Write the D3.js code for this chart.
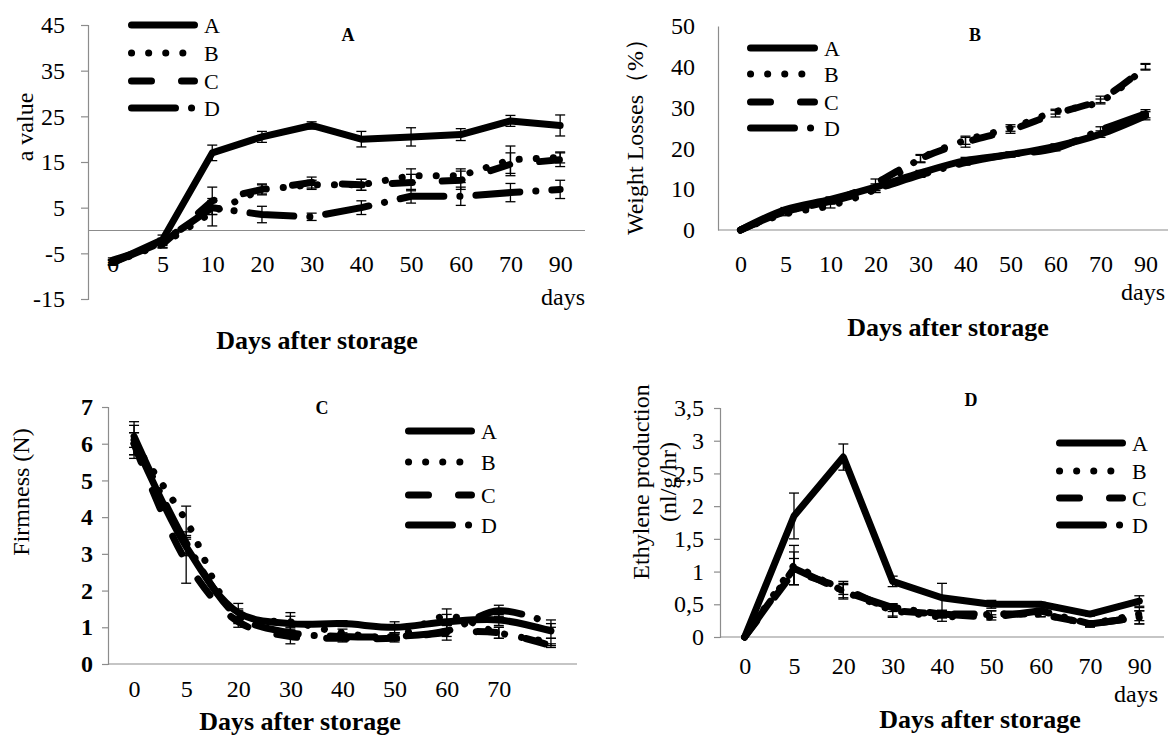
<!DOCTYPE html>
<html>
<head>
<meta charset="utf-8">
<script src="https://cdn.jsdelivr.net/npm/d3@7"></script>
<style>
body { margin: 0; background: #fff; }
svg text { font-family: "Liberation Serif", "Times New Roman", serif; fill: #000; }
</style>
</head>
<body>
<div id="root"></div>
<script>
const w = 1168, h = 735;

// ---- data ----
const seriesNames = ["A", "B", "C", "D"];

// panel A: a value
const daysA = ["0", "5", "10", "20", "30", "40", "50", "60", "70", "90"];
const aValueA = [-7, -2, 17, 20.5, 23, 20, 20.5, 21, 24, 23];
const aValueB = [-7, -3, 4, 9, 10, 10, 12, 12, 15.5, 16];
const aValueC = [-6.5, -3, 6.5, 9, 10.5, 10, 10.5, 11, 14.5, 15.5];
const aValueD = [-7, -2.5, 5, 3.5, 3, 5, 7.5, 7.5, 8.3, 9];
const aErrA = [0.6, 1, 1.7, 1.2, 0.8, 1.7, 2, 1.3, 1.2, 2.3];
const aErrB = [0.5, 0.8, 3, 1, 1, 1.2, 1.5, 1.5, 3, 1.2];
const aErrC = [0.5, 0.8, 3, 1.2, 1.2, 1.2, 1.8, 2, 2.5, 1.5];
const aErrD = [0.5, 0.8, 1.5, 1.8, 0.8, 1.5, 1.5, 2, 2, 2];

// panel B: weight losses
const daysB = ["0", "5", "10", "20", "30", "40", "50", "60", "70", "90"];
const weightA = [0, 5, 7.5, 10.5, 14, 17, 18.5, 20.5, 23.5, 28];
const weightB = [0, 4, 6, 10, 17.5, 22, 25, 29, 31.5, 40];
const weightC = [0, 4.5, 7, 11.5, 17.5, 21.5, 24.5, 28.5, 32, 40];
const weightD = [0, 4.5, 7, 10, 13.5, 16.5, 18.5, 20, 24.5, 28.5];
const weightErrA = [0, 0.5, 0.6, 0.8, 0.6, 0.8, 0.6, 0.6, 0.8, 1];
const weightErrB = [0, 0.5, 0.6, 0.8, 0.8, 1, 0.8, 0.6, 0.6, 0.6];
const weightErrC = [0, 0.5, 0.6, 1, 1, 1.2, 0.8, 0.8, 0.8, 0.8];
const weightErrD = [0, 0.5, 0.6, 0.8, 0.6, 0.6, 0.6, 0.6, 0.8, 1];

// panel C: firmness
const daysC = ["0", "5", "20", "30", "40", "50", "60", "70", ""];
const firmA = [6.1, 3.2, 1.4, 1.1, 1.1, 1.0, 1.15, 1.2, 0.9];
const firmB = [6.0, 3.9, 1.3, 1.15, 0.85, 0.75, 1.3, 0.85, 0.6];
const firmC = [6.0, 2.8, 1.15, 0.75, 0.7, 0.7, 0.85, 0.85, 0.5];
const firmD = [6.2, 3.3, 1.3, 0.85, 0.75, 0.75, 0.9, 1.45, 1.1];
const firmErrA = [0.5, 0.25, 0.25, 0.2, 0.08, 0.15, 0.2, 0.15, 0.2];
const firmErrB = [0.3, 0.4, 0.2, 0.25, 0.1, 0.1, 0.2, 0.15, 0.1];
const firmErrC = [0.3, 0.6, 0.15, 0.2, 0.1, 0.1, 0.2, 0.15, 0.05];
const firmErrD = [0.3, 0.3, 0.15, 0.15, 0.1, 0.1, 0.15, 0.15, 0.1];

// panel D: ethylene production
const daysD = ["0", "5", "20", "30", "40", "50", "60", "70", "90"];
const ethA = [0, 1.85, 2.75, 0.85, 0.6, 0.5, 0.5, 0.35, 0.55];
const ethB = [0, 1.1, 0.7, 0.4, 0.3, 0.35, 0.35, 0.2, 0.35];
const ethC = [0, 1.0, 0.75, 0.4, 0.35, 0.35, 0.35, 0.2, 0.3];
const ethD = [0, 1.05, 0.7, 0.45, 0.35, 0.3, 0.4, 0.2, 0.3];
const ethErrA = [0, 0.35, 0.2, 0.08, 0.22, 0.06, 0.03, 0.03, 0.08];
const ethErrB = [0, 0.3, 0.12, 0.08, 0.06, 0.05, 0.04, 0.04, 0.1];
const ethErrC = [0, 0.2, 0.1, 0.1, 0.06, 0.05, 0.04, 0.05, 0.1];
const ethErrD = [0, 0.25, 0.1, 0.06, 0.05, 0.04, 0.04, 0.04, 0.1];

// line style per treatment (solid, round dot, dash, long dash dot)
const dashes = { A: null, B: "0.1,17", C: "20,30", D: "44,16,0.1,16" };
const axisGrey = "#8c8c8c";

const svg = d3.select("#root")
    .append("svg")
    .attr("width", w)
    .attr("height", h);

function drawPanel(p) {
    const g = svg.append("g");
    const x = d3.scalePoint()
        .domain(d3.range(p.days.length))
        .range(p.xRange)
        .padding(0.5);
    const y = d3.scaleLinear()
        .domain(p.yDomain)
        .range(p.yRange);

    // y axis
    const yAxis = d3.axisLeft(y)
        .tickValues(p.yTicks)
        .tickSize(p.tickLen)
        .tickPadding(p.tickPad)
        .tickFormat(p.yFormat);
    const ya = g.append("g")
        .attr("transform", "translate(" + p.xRange[0] + ",0)")
        .call(yAxis);
    ya.select(".domain").attr("stroke", axisGrey).attr("stroke-width", 1.2);
    ya.selectAll(".tick line").attr("stroke", axisGrey).attr("stroke-width", 1.2);
    ya.selectAll(".tick text")
        .style("font-size", "24px")
        .style("font-weight", p.boldY ? "bold" : "normal");

    // horizontal axis line
    g.append("line")
        .attr("x1", p.xRange[0]).attr("x2", p.xRange[1])
        .attr("y1", y(p.base)).attr("y2", y(p.base))
        .attr("stroke", axisGrey)
        .attr("stroke-width", 1.2);

    // category labels
    const xAxis = d3.axisBottom(x).tickSize(0).tickFormat(i => p.days[i]);
    const xa = g.append("g")
        .attr("transform", "translate(0," + (p.labelY - 14) + ")")
        .call(xAxis);
    xa.select(".domain").remove();
    xa.selectAll(".tick text").style("font-size", "24px");

    // series lines
    const line = d3.line()
        .x((d, i) => x(i))
        .y(d => y(d))
        .curve(p.smooth ? d3.curveCatmullRom.alpha(0.5) : d3.curveLinear);

    const order = ["D", "C", "B", "A"];
    order.forEach(k => {
        g.append("path")
            .datum(p.values[k])
            .attr("d", line)
            .attr("fill", "none")
            .attr("stroke", "#000")
            .attr("stroke-width", 7)
            .attr("stroke-linecap", "round")
            .attr("stroke-linejoin", "round")
            .attr("stroke-dasharray", dashes[k]);
    });

    // error bars
    seriesNames.forEach(k => {
        const vals = p.values[k];
        const errs = p.errors[k];
        vals.forEach((v, i) => {
            const e = errs[i];
            if (!e) return;
            const cx = x(i);
            const eb = g.append("g").attr("stroke", "#000").attr("stroke-width", 1.3);
            eb.append("line").attr("x1", cx).attr("x2", cx).attr("y1", y(v - e)).attr("y2", y(v + e));
            eb.append("line").attr("x1", cx - 5).attr("x2", cx + 5).attr("y1", y(v - e)).attr("y2", y(v - e));
            eb.append("line").attr("x1", cx - 5).attr("x2", cx + 5).attr("y1", y(v + e)).attr("y2", y(v + e));
        });
    });

    // legend
    seriesNames.forEach((k, i) => {
        const ly = p.legend.y[i];
        g.append("line")
            .attr("x1", p.legend.x + 3.5).attr("x2", p.legend.x + p.legend.len - 3.5)
            .attr("y1", ly).attr("y2", ly)
            .attr("stroke", "#000")
            .attr("stroke-width", 7)
            .attr("stroke-linecap", "round")
            .attr("stroke-dasharray", dashes[k]);
        g.append("text")
            .attr("x", p.legend.x + p.legend.len + 6)
            .attr("y", ly + 8)
            .style("font-size", "22px")
            .text(k);
    });

    // panel letter
    g.append("text")
        .attr("x", p.title[0]).attr("y", p.title[1] + 6)
        .attr("text-anchor", "middle")
        .style("font-size", "18px")
        .style("font-weight", "bold")
        .text(p.letter);

    // axis titles
    g.append("text")
        .attr("x", p.xTitle[0]).attr("y", p.xTitle[1] + 9)
        .attr("text-anchor", "middle")
        .style("font-size", "26px")
        .style("font-weight", "bold")
        .text("Days after storage");

    if (p.daysLabel) {
        g.append("text")
            .attr("x", p.daysLabel[0]).attr("y", p.daysLabel[1] + 7)
            .attr("text-anchor", "end")
            .style("font-size", "24px")
            .text("days");
    }

    p.yLabel.forEach(t => {
        g.append("text")
            .attr("transform", "translate(" + t.x + "," + t.y + ") rotate(-90)")
            .attr("text-anchor", "middle")
            .attr("dy", "0.35em")
            .style("font-size", "24px")
            .style("font-weight", t.bold ? "bold" : "normal")
            .text(t.text);
    });
}

// plain hyphen for negatives, as in the source figure
const intFmt = d => String(d);
const commaFmt = d => String(d).replace(".", ",");

// A: a value
drawPanel({
    letter: "A", days: daysA,
    values: { A: aValueA, B: aValueB, C: aValueC, D: aValueD },
    errors: { A: aErrA, B: aErrB, C: aErrC, D: aErrD },
    xRange: [88, 585], yDomain: [-15, 45], yRange: [299, 25],
    yTicks: [-15, -5, 5, 15, 25, 35, 45], yFormat: intFmt,
    tickLen: 7, tickPad: 16, base: 0, labelY: 266, smooth: false,
    legend: { x: 128, len: 70, y: [25, 53, 81, 108] },
    title: [348, 35], xTitle: [317, 340], daysLabel: [585, 298],
    yLabel: [{ text: "a value", x: 25, y: 127 }]
});

// B: weight losses
drawPanel({
    letter: "B", days: daysB,
    values: { A: weightA, B: weightB, C: weightC, D: weightD },
    errors: { A: weightErrA, B: weightErrB, C: weightErrC, D: weightErrD },
    xRange: [718, 1168], yDomain: [0, 50], yRange: [230, 26],
    yTicks: [0, 10, 20, 30, 40, 50], yFormat: intFmt,
    tickLen: 0, tickPad: 23, base: 0, labelY: 266, smooth: true,
    legend: { x: 747, len: 71, y: [48, 74, 102, 128] },
    title: [975, 35], xTitle: [948, 327], daysLabel: [1165, 293],
    yLabel: [{ text: "Weight Losses（%）", x: 635, y: 131 }]
});

// C: firmness
drawPanel({
    letter: "C", days: daysC,
    values: { A: firmA, B: firmB, C: firmC, D: firmD },
    errors: { A: firmErrA, B: firmErrB, C: firmErrC, D: firmErrD },
    xRange: [108, 577], yDomain: [0, 7], yRange: [664, 407],
    yTicks: [0, 1, 2, 3, 4, 5, 6, 7], yFormat: intFmt, boldY: true,
    tickLen: 6, tickPad: 9, base: 0, labelY: 691, smooth: true,
    legend: { x: 405, len: 70, y: [431, 462, 495, 525] },
    title: [322, 408], xTitle: [300, 721], daysLabel: null,
    yLabel: [{ text: "Firmness (N)", x: 21, y: 492 }]
});

// D: ethylene production
drawPanel({
    letter: "D", days: daysD,
    values: { A: ethA, B: ethB, C: ethC, D: ethD },
    errors: { A: ethErrA, B: ethErrB, C: ethErrC, D: ethErrD },
    xRange: [720, 1164], yDomain: [0, 3.5], yRange: [637, 408],
    yTicks: [0, 0.5, 1, 1.5, 2, 2.5, 3, 3.5], yFormat: commaFmt,
    tickLen: 6, tickPad: 10, base: 0, labelY: 668, smooth: false,
    legend: { x: 1056, len: 70, y: [443, 471, 498, 525] },
    title: [971, 400], xTitle: [980, 719], daysLabel: [1158, 695],
    yLabel: [
        { text: "Ethylene  production", x: 641, y: 482 },
        { text: "(nl/g/hr)", x: 668, y: 482 }
    ]
});
</script>
</body>
</html>
